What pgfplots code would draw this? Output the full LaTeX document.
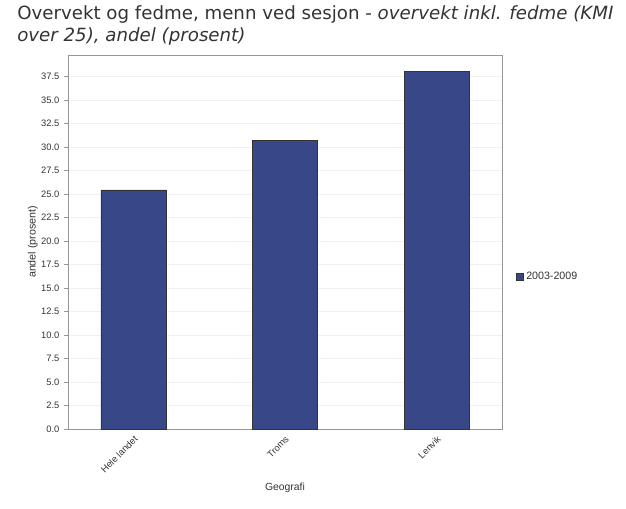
\documentclass[border=0pt]{standalone}
\usepackage{pgfplots}
\pgfplotsset{compat=1.18}
\usepackage{fontspec}
\setmainfont{Liberation Sans}
\newfontfamily\titlefont{DejaVu Sans}
\definecolor{barblue}{RGB}{56,71,135}
\definecolor{txt}{RGB}{51,51,51}
\definecolor{frame}{RGB}{150,150,150}
\begin{document}
\begin{tikzpicture}[x=0.75pt,y=0.75pt]
\useasboundingbox (0,0) rectangle (626,508);
\node[anchor=north west, align=left, inner sep=0pt, text=txt, font=\titlefont\fontsize{13.65}{16.8}\selectfont] at (17,503)
  {Overvekt og fedme, menn ved sesjon - \textit{overvekt inkl. fedme (KMI}\\\textit{over 25), andel (prosent)}};
\begin{axis}[
  at={(51pt,59.25pt)}, anchor=south west,
  width=325.5pt, height=280.5pt, scale only axis,
  xmin=-0.432, xmax=2.432,
  ymin=0, ymax=39.8,
  xtick={0,1,2},
  xticklabels={Hele landet,Troms,Lenvik},
  x tick label style={rotate=45, anchor=north east, font=\fontsize{7}{8}\selectfont, text=txt, inner sep=1pt},
  ytick={0,2.5,...,37.5},
  y tick label style={font=\fontsize{7}{8}\selectfont, text=txt},
  /pgf/number format/assume math mode=true,
  yticklabel style={/pgf/number format/fixed, /pgf/number format/fixed zerofill, /pgf/number format/precision=1},
  ymajorgrids, grid style={draw=black!6},
  axis line style={draw=frame},
  tick style={draw=frame},
  xtick style={draw=none},
  major tick length=3pt,
  tick align=outside,
  ytick pos=left,
  ylabel={andel (prosent)},
  ylabel style={font=\fontsize{8}{10}\selectfont, text=txt, at={(axis description cs:-0.081,0.5)}, anchor=center},
  xlabel={Geografi},
  xlabel style={font=\fontsize{7.8}{9}\selectfont, text=txt, at={(axis description cs:0.5,-0.157)}, anchor=center},
  legend style={at={(1.023,0.406)}, anchor=west, draw=none, fill=none, font=\fontsize{8}{9}\selectfont, text=txt},
  legend image code/.code={\draw[fill=barblue,draw=black!80] (0cm,-0.09cm) rectangle (0.18cm,0.09cm);},
]
\addplot[ybar, bar width=0.429, fill=barblue, draw=black!80, bar shift=0pt] coordinates {(0,25.45) (1,30.68) (2,38.03)};
\addlegendentry{2003-2009}
\end{axis}
\end{tikzpicture}
\end{document}
